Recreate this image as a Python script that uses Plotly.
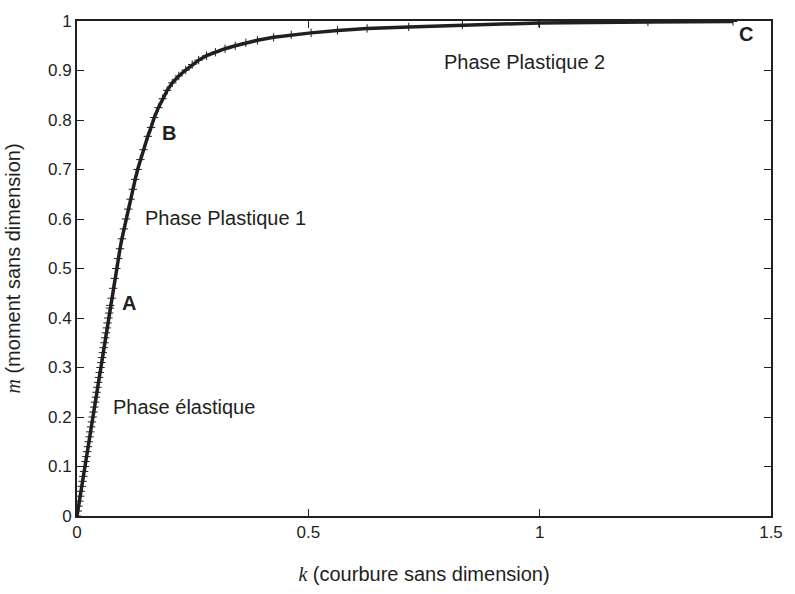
import plotly.graph_objects as go

# curvature k and moment m
k_vals = [0.0, 0.0017, 0.0034, 0.0051, 0.0068, 0.0085, 0.0102, 0.0119, 0.0136, 0.0153,
          0.0169, 0.0186, 0.0203, 0.0220, 0.0237, 0.0254, 0.0271, 0.0288, 0.0305, 0.0322,
          0.0339, 0.0356, 0.0373, 0.0390, 0.0407, 0.0424, 0.0441, 0.0458, 0.0475, 0.0492,
          0.0508, 0.0525, 0.0542, 0.0559, 0.0576, 0.0593, 0.0610, 0.0627, 0.0644, 0.0661,
          0.0678, 0.0695, 0.0712, 0.0721,
          0.0750, 0.0783, 0.0815, 0.0850, 0.0890, 0.0930, 0.0970, 0.1015, 0.1060, 0.1108,
          0.1157, 0.1207, 0.1258, 0.1310, 0.1370, 0.1440, 0.1530,
          0.1600, 0.1670, 0.1760, 0.1850, 0.1950, 0.2060, 0.2200, 0.2350, 0.2490, 0.2630,
          0.2800, 0.2990, 0.3200, 0.3420, 0.3650, 0.3900, 0.4250, 0.4630, 0.5060, 0.5630,
          0.6270, 0.7170, 0.8330, 0.9980, 1.2340, 1.4180]
m_vals = [0.0, 0.01, 0.02, 0.03, 0.04, 0.05, 0.06, 0.07, 0.08, 0.09,
          0.10, 0.11, 0.12, 0.13, 0.14, 0.15, 0.16, 0.17, 0.18, 0.19,
          0.20, 0.21, 0.22, 0.23, 0.24, 0.25, 0.26, 0.27, 0.28, 0.29,
          0.30, 0.31, 0.32, 0.33, 0.34, 0.35, 0.36, 0.37, 0.38, 0.39,
          0.40, 0.41, 0.42, 0.4255,
          0.44, 0.46, 0.48, 0.50, 0.52, 0.54, 0.56, 0.58, 0.60, 0.62,
          0.64, 0.66, 0.68, 0.70, 0.72, 0.74, 0.767,
          0.785, 0.805, 0.825, 0.843, 0.860, 0.875, 0.889, 0.901, 0.912, 0.921,
          0.930, 0.937, 0.944, 0.950, 0.956, 0.961, 0.967, 0.972, 0.976, 0.981,
          0.985, 0.988, 0.992, 0.996, 0.998, 0.999]

# labelled points
point_names = ["A", "B", "C"]
point_k = [0.112, 0.198, 1.446]
point_m = [0.431, 0.774, 0.973]

phase_names = ["Phase élastique", "Phase Plastique 1", "Phase Plastique 2"]
phase_k = [0.074, 0.142, 0.788]
phase_m = [0.221, 0.602, 0.918]

x_ticks = [0, 0.5, 1, 1.5]
x_tick_text = ["0", "0.5", "1", "1.5"]
y_ticks = [0, 0.1, 0.2, 0.3, 0.4, 0.5, 0.6, 0.7, 0.8, 0.9, 1]
y_tick_text = ["0", "0.1", "0.2", "0.3", "0.4", "0.5", "0.6", "0.7", "0.8", "0.9", "1"]

INK = "#231f20"
FONT = "Liberation Sans, Arial, Helvetica, sans-serif"
SERIF = "Liberation Serif,Times New Roman,serif"

fig = go.Figure()
fig.add_trace(go.Scatter(
    x=k_vals, y=m_vals, mode="lines+markers",
    line=dict(color=INK, width=3.5),
    marker=dict(symbol="cross-thin", size=6, line=dict(color=INK, width=1)),
    showlegend=False, hoverinfo="skip",
))

for name, kx, my in zip(point_names, point_k, point_m):
    fig.add_annotation(x=kx, y=my, text="<b>" + name + "</b>", showarrow=False,
                       xanchor="center", yanchor="middle",
                       font=dict(family=FONT, size=20, color=INK))
for name, kx, my in zip(phase_names, phase_k, phase_m):
    fig.add_annotation(x=kx, y=my, text=name, showarrow=False,
                       xanchor="left", yanchor="middle",
                       font=dict(family=FONT, size=20, color=INK))

axis_common = dict(
    showline=True, linewidth=2, linecolor=INK, mirror="ticks",
    ticks="inside", ticklen=7, tickwidth=1, tickcolor=INK,
    showgrid=False, zeroline=False,
    tickfont=dict(family=FONT, size=17, color=INK),
)

fig.update_layout(
    width=795, height=594,
    margin=dict(l=77, r=16, t=16, b=65),
    paper_bgcolor="white", plot_bgcolor="white",
    xaxis=dict(range=[0, 1.5], tickvals=x_ticks, ticktext=x_tick_text,
               title=dict(text="<span style='font-family:" + SERIF + "'><i>k</i></span> (courbure sans dimension)",
                          font=dict(family=FONT, size=20, color=INK), standoff=26),
               **axis_common),
    yaxis=dict(range=[0, 1], tickvals=y_ticks, ticktext=y_tick_text,
               title=dict(text="<span style='font-family:" + SERIF + "'><i>m</i></span> (moment sans dimension)",
                          font=dict(family=FONT, size=20, color=INK), standoff=22),
               **axis_common),
)

fig.write_html("out.html")
